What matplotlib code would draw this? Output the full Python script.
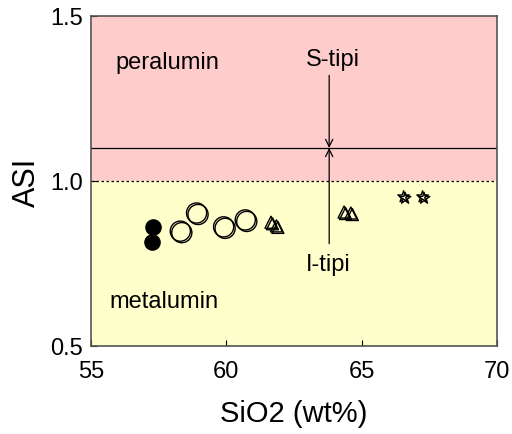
import matplotlib
matplotlib.use("Agg")
import matplotlib.pyplot as plt
import matplotlib.transforms as mtransforms

plt.rcParams['font.family'] = ['Liberation Sans', 'DejaVu Sans']

# sample groups (SiO2 wt%, ASI)
filled_sio2 = [57.3, 57.25]
filled_asi = [0.861, 0.815]
circle_sio2 = [58.3, 58.9, 59.9, 60.7]
circle_asi = [0.848, 0.903, 0.861, 0.882]
tri_sio2 = [61.65, 61.85, 64.35, 64.6]
tri_asi = [0.875, 0.864, 0.906, 0.903]
star_sio2 = [66.55, 67.25]
star_asi = [0.952, 0.952]

asi_boundary = 1.0
type_line = 1.1
type_x = 63.8

fig = plt.figure(figsize=(5.12, 4.35), dpi=100)
ax = fig.add_axes([0.1777, 0.2023, 0.793, 0.7587])
ax.set_xlim(55, 70)
ax.set_ylim(0.5, 1.5)

ax.axhspan(asi_boundary, 1.5, color='#ffcccc', zorder=0)
ax.axhspan(0.5, asi_boundary, color='#ffffcc', zorder=0)
ax.axhline(asi_boundary, color='black', lw=0.9, ls=(0, (2, 2)), zorder=1)
ax.axhline(type_line, color='black', lw=0.9, zorder=1)

# S-type / I-type arrows meeting on the 1.1 line
for y0 in (1.32, 0.81):
    ax.annotate('', xy=(type_x, type_line), xytext=(type_x, y0),
                arrowprops=dict(arrowstyle='->', lw=0.9, color='black',
                                mutation_scale=13, shrinkA=0, shrinkB=0))
ax.text(63.92, 1.37, 'S-tipi', ha='center', va='center', fontsize=17)
ax.text(63.75, 0.749, 'I-tipi', ha='center', va='center', fontsize=17)
ax.text(55.89, 1.36, 'peralumin', ha='left', va='center', fontsize=17)
ax.text(55.7, 0.635, 'metalumin', ha='left', va='center', fontsize=17)

# open markers drawn twice with a small offset for a doubled outline
shift = mtransforms.offset_copy(ax.transData, fig=fig, x=1.5, y=-1.5, units='dots')
for tr in (ax.transData, shift):
    ax.scatter(circle_sio2, circle_asi, s=210, marker='o', facecolors='none',
               edgecolors='black', linewidths=1.0, transform=tr, zorder=3)
    ax.scatter(tri_sio2, tri_asi, s=75, marker='^', facecolors='none',
               edgecolors='black', linewidths=1.0, transform=tr, zorder=3)
    ax.scatter(star_sio2, star_asi, s=75, marker='*', facecolors='none',
               edgecolors='black', linewidths=1.0, transform=tr, zorder=3)
ax.scatter(filled_sio2, filled_asi, s=120, marker='o', color='black', zorder=3)

ax.set_xticks([55, 60, 65, 70])
ax.set_yticks([0.5, 1.0, 1.5])
ax.set_yticklabels(['0.5', '1.0', '1.5'])
ax.tick_params(direction='in', length=4, width=0.8, labelsize=17)
ax.tick_params(axis='x', pad=10)
ax.tick_params(axis='y', pad=6)
for sp in ax.spines.values():
    sp.set_color('#555555')
    sp.set_linewidth(1.2)

ax.set_xlabel('SiO2 (wt%)', fontsize=21, labelpad=12)
ax.set_ylabel('ASI', fontsize=22, labelpad=6)

fig.savefig('out.png', dpi=100)
